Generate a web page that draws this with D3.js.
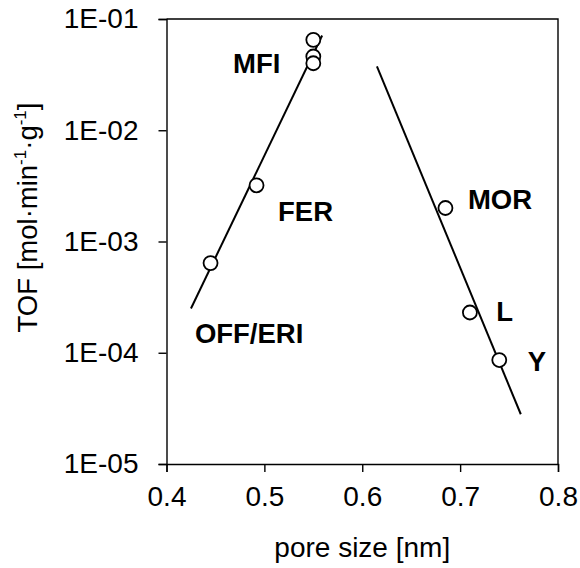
<!DOCTYPE html>
<html>
<head>
<meta charset="utf-8">
<script src="https://cdn.jsdelivr.net/npm/d3@7"></script>
<style>
  html, body { margin: 0; padding: 0; background: #fff; }
  svg { display: block; font-family: Arial, "Liberation Sans", sans-serif; }
</style>
</head>
<body>
<svg id="chart" width="580" height="568"></svg>
<script>
// ---- data ----
const poreSize = [0.445, 0.492, 0.550, 0.550, 0.550, 0.685, 0.710, 0.740];
const tof      = [6.4e-4, 3.2e-3, 6.5e-2, 4.6e-2, 4.0e-2, 2.0e-3, 2.3e-4, 8.6e-5];

const fitLeftX  = [0.425, 0.559];
const fitLeftY  = [2.5e-4, 7.1e-2];
const fitRightX = [0.615, 0.762];
const fitRightY = [3.75e-2, 2.8e-5];

const labelText = ["MFI", "FER", "OFF/ERI", "MOR", "L", "Y"];
const labelX    = [0.468, 0.514, 0.429, 0.708, 0.737, 0.769];
const labelY    = [3.3e-2, 1.53e-3, 1.23e-4, 1.97e-3, 1.94e-4, 6.9e-5];

const xTicks = [0.4, 0.5, 0.6, 0.7, 0.8];
const yTicks = [1e-1, 1e-2, 1e-3, 1e-4, 1e-5];
const yTickLabels = ["1E-01", "1E-02", "1E-03", "1E-04", "1E-05"];

// ---- layout ----
const svg = d3.select("#chart");
const mLeft = 166.5, mRight = 558, mTop = 19, mBottom = 464;

const x = d3.scaleLinear().domain([0.4, 0.8]).range([mLeft, mRight]);
const y = d3.scaleLog().domain([1e-5, 1e-1]).range([mBottom, mTop]);

// frame (top & right)
svg.append("path")
  .attr("d", `M${mLeft},${mTop}H${mRight}V${mBottom}`)
  .attr("fill", "none").attr("stroke", "#000").attr("stroke-width", 1.4);

// axes
const xAxis = d3.axisBottom(x).tickValues(xTicks).tickFormat(d3.format(".1f")).tickSize(8).tickPadding(14);
const gx = svg.append("g").attr("transform", `translate(0,${mBottom})`).call(xAxis);
const yAxis = d3.axisLeft(y).tickValues(yTicks).tickFormat((d, i) => yTickLabels[i]).tickSize(8).tickPadding(20);
const gy = svg.append("g").attr("transform", `translate(${mLeft},0)`).call(yAxis);

[gx, gy].forEach(g => {
  g.select(".domain").attr("stroke", "#000").attr("stroke-width", 1.4);
  g.selectAll(".tick line").attr("stroke", "#000").attr("stroke-width", 1.4);
  g.selectAll(".tick text").attr("fill", "#000").attr("font-size", 28)
    .attr("font-family", "Arial, 'Liberation Sans', sans-serif");
});
gx.selectAll(".tick text").attr("dy", "0.71em");

// fit lines
const line = d3.line().x(d => x(d[0])).y(d => y(d[1]));
[[fitLeftX, fitLeftY], [fitRightX, fitRightY]].forEach(([xs, ys]) => {
  svg.append("path")
    .attr("d", line(xs.map((v, i) => [v, ys[i]])))
    .attr("fill", "none").attr("stroke", "#000").attr("stroke-width", 2);
});

// points
svg.append("g").selectAll("circle")
  .data(poreSize.map((v, i) => [v, tof[i]]))
  .join("circle")
  .attr("cx", d => x(d[0])).attr("cy", d => y(d[1]))
  .attr("r", 7).attr("fill", "#fff").attr("stroke", "#000").attr("stroke-width", 1.8);

// labels
svg.append("g").selectAll("text")
  .data(labelText.map((t, i) => ({ t, x: labelX[i], y: labelY[i] })))
  .join("text")
  .attr("x", d => x(d.x)).attr("y", d => y(d.y))
  .attr("font-size", 27.5).attr("font-weight", "bold").attr("fill", "#000")
  .text(d => d.t);

// axis titles
svg.append("text")
  .attr("x", (mLeft + mRight) / 2).attr("y", 557)
  .attr("text-anchor", "middle").attr("font-size", 28).attr("fill", "#000")
  .text("pore size [nm]");

const yt = svg.append("text")
  .attr("transform", `translate(37,217.5) rotate(-90)`)
  .attr("text-anchor", "middle").attr("font-size", 27.5).attr("fill", "#000");
yt.append("tspan").text("TOF [mol·min");
yt.append("tspan").attr("font-size", 17).attr("dy", -11).text("-1");
yt.append("tspan").attr("dy", 11).text("·g");
yt.append("tspan").attr("font-size", 17).attr("dy", -11).text("-1");
yt.append("tspan").attr("dy", 11).text("]");
</script>
</body>
</html>
